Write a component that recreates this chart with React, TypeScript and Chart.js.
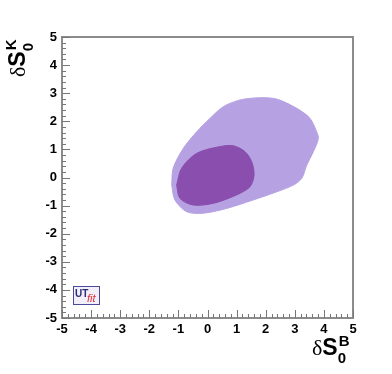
import { useEffect, useRef } from "react";
import { Chart, registerables } from "chart.js";
Chart.register(...registerables);

// 95% (outer, light) region boundary
const outerX = [-1.23, -1.18, -0.83, -0.37, 0.09, 0.54, 1.12, 1.80, 2.38, 3.07, 3.52, 3.75, 3.81, 3.64, 3.41, 3.24, 2.95, 2.38, 1.57, 0.66, -0.14, -0.71, -1.12, -1.23];
const outerY = [-0.27, 0.33, 1.04, 1.63, 2.11, 2.52, 2.76, 2.84, 2.79, 2.46, 2.11, 1.63, 1.39, 0.92, 0.44, -0.03, -0.27, -0.51, -0.80, -1.10, -1.27, -1.22, -0.80, -0.27];
// 68% (inner, dark) region boundary
const innerX = [-1.06, -0.89, -0.37, 0.43, 0.89, 1.29, 1.52, 1.60, 1.46, 1.00, 0.20, -0.49, -0.95, -1.06];
const innerY = [-0.27, 0.33, 0.86, 1.10, 1.13, 0.92, 0.56, 0.09, -0.33, -0.62, -0.92, -0.98, -0.74, -0.27];

const axisMin = -5;
const axisMax = 5;
const majorStep = 1;
const minorStep = 0.2;

const FONT = "'Liberation Sans', Arial, sans-serif";

function drawTitle(ctx: CanvasRenderingContext2D, x: number, y: number, sup: string) {
  ctx.fillStyle = "#000";
  ctx.textBaseline = "alphabetic";
  ctx.textAlign = "left";
  ctx.font = `22px 'Liberation Serif', serif`;
  ctx.fillText("δ", x, y);
  const dw = ctx.measureText("δ").width;
  ctx.font = `bold 23px ${FONT}`;
  ctx.fillText("S", x + dw, y);
  const sw = ctx.measureText("S").width;
  ctx.font = `bold 15px ${FONT}`;
  ctx.fillText(sup, x + dw + sw + 1, y - 9);
  ctx.fillText("0", x + dw + sw, y + 8);
}

const decorPlugin = {
  id: "decor",
  afterDraw(chart: any) {
    const ctx: CanvasRenderingContext2D = chart.ctx;
    const { left, right, top, bottom } = chart.chartArea;
    const xs = chart.scales.x;
    const ys = chart.scales.y;
    ctx.save();
    // frame
    ctx.strokeStyle = "#8c8c8c";
    ctx.lineWidth = 2;
    ctx.strokeRect(left, top, right - left, bottom - top);
    // ticks
    ctx.lineWidth = 1;
    ctx.strokeStyle = "#777";
    const n = Math.round((axisMax - axisMin) / minorStep);
    for (let i = 0; i <= n; i++) {
      const v = axisMin + i * minorStep;
      const major = Math.abs(v / majorStep - Math.round(v / majorStep)) < 1e-6;
      const len = major ? 8 : 4;
      const px = Math.round(xs.getPixelForValue(v)) + 0.5;
      ctx.beginPath();
      ctx.moveTo(px, bottom);
      ctx.lineTo(px, bottom - len);
      ctx.stroke();
      const py = Math.round(ys.getPixelForValue(v)) + 0.5;
      ctx.beginPath();
      ctx.moveTo(left, py);
      ctx.lineTo(left + len, py);
      ctx.stroke();
    }
    // logo
    const lx = left + 11, ly = bottom - 32;
    ctx.fillStyle = "#f3eff8";
    ctx.fillRect(lx, ly, 26, 18);
    ctx.strokeStyle = "#4a4a9a";
    ctx.lineWidth = 1;
    ctx.strokeRect(lx + 0.5, ly + 0.5, 26, 18);
    ctx.fillStyle = "#2b2b7a";
    ctx.font = `bold 10px ${FONT}`;
    ctx.textAlign = "left";
    ctx.textBaseline = "alphabetic";
    ctx.fillText("UT", lx + 2, ly + 11);
    ctx.fillStyle = "#e0303a";
    ctx.font = `italic 11px ${FONT}`;
    ctx.fillText("fit", lx + 14, ly + 16);
    // axis titles
    drawTitle(ctx, 312, 355, "B");
    ctx.translate(25, 77);
    ctx.rotate(-Math.PI / 2);
    drawTitle(ctx, 0, 0, "K");
    ctx.restore();
  },
};

export default function App() {
  const ref = useRef<HTMLCanvasElement>(null);
  useEffect(() => {
    const outer = outerX.map((x, i) => ({ x, y: outerY[i] }));
    const inner = innerX.map((x, i) => ({ x, y: innerY[i] }));
    const tickFont = { family: FONT, size: 13, weight: "bold" as const };
    const chart = new Chart(ref.current!, {
      type: "scatter",
      data: {
        datasets: [
          {
            data: inner,
            showLine: true,
            fill: "shape",
            backgroundColor: "rgb(138,78,174)",
            borderColor: "rgb(138,78,174)",
            borderWidth: 1,
            pointRadius: 0,
            tension: 0.3,
          } as any,
          {
            data: outer,
            showLine: true,
            fill: "shape",
            backgroundColor: "rgb(182,162,226)",
            borderColor: "rgb(182,162,226)",
            borderWidth: 1,
            pointRadius: 0,
            tension: 0.3,
          } as any,
        ],
      },
      options: {
        animation: false,
        responsive: false,
        maintainAspectRatio: false,
        layout: { padding: { top: 37, right: 39, left: 0, bottom: 0 } },
        plugins: { legend: { display: false }, tooltip: { enabled: false } },
        scales: {
          x: {
            type: "linear",
            min: axisMin,
            max: axisMax,
            grid: { display: false, drawTicks: false },
            border: { display: false },
            ticks: { stepSize: majorStep, color: "#000", font: tickFont, padding: 4, maxRotation: 0 },
            afterFit: (s: any) => { s.height = 56; },
          },
          y: {
            type: "linear",
            min: axisMin,
            max: axisMax,
            grid: { display: false, drawTicks: false },
            border: { display: false },
            ticks: { stepSize: majorStep, color: "#000", font: tickFont, padding: 5 },
            afterFit: (s: any) => { s.width = 62; },
          },
        },
      },
      plugins: [decorPlugin],
    });
    return () => chart.destroy();
  }, []);
  return (
    <div style={{ position: "fixed", left: 0, top: 0, width: 392, height: 374, background: "#fff" }}>
      <canvas ref={ref} width={392} height={374} style={{ width: 392, height: 374 }} />
    </div>
  );
}
